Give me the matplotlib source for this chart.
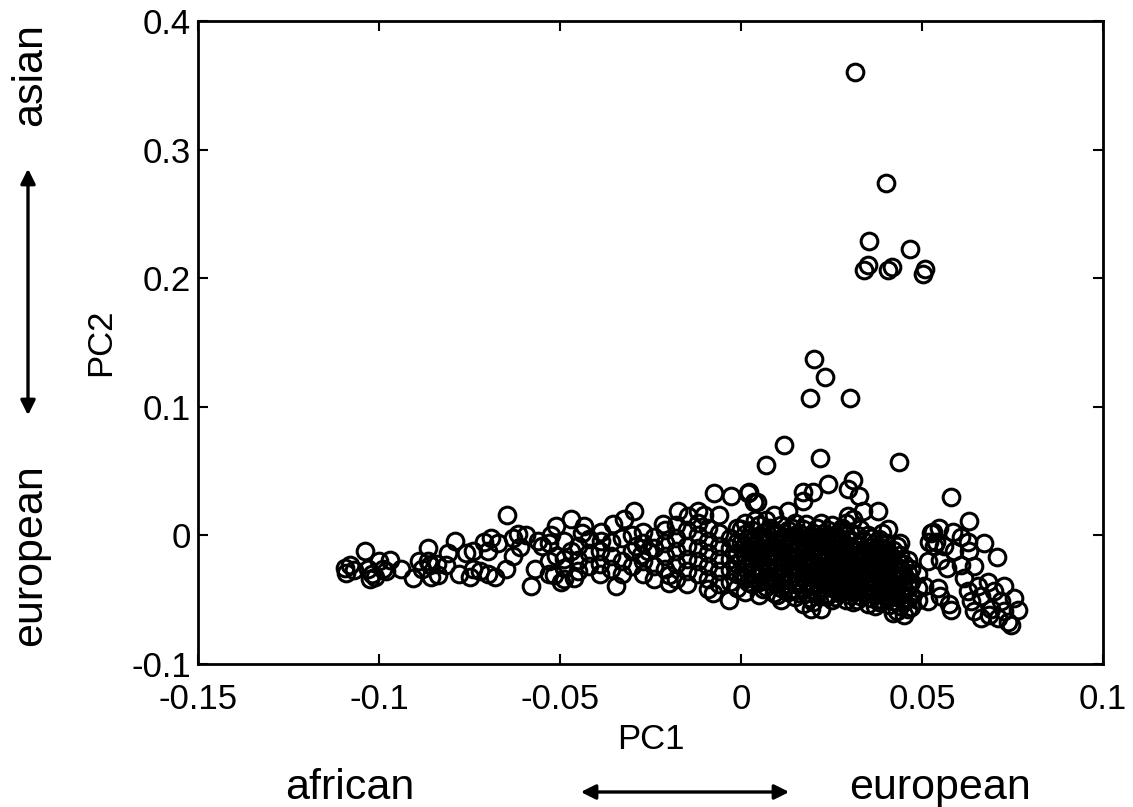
import matplotlib
matplotlib.use("Agg")
import matplotlib.pyplot as plt
from matplotlib.patches import FancyArrowPatch

plt.rcParams['font.family'] = ['Liberation Sans', 'DejaVu Sans']

# ---- data (PC1, PC2) ----
outliers = [(0.0315, 0.360), (0.040, 0.274), (0.0353, 0.229), (0.0466, 0.223),
            (0.034, 0.206), (0.035, 0.210), (0.0406, 0.2065), (0.0417, 0.209),
            (0.0502, 0.203), (0.0508, 0.207), (0.0201, 0.137), (0.0232, 0.123),
            (0.019, 0.107), (0.030, 0.107), (0.012, 0.070), (0.0218, 0.060),
            (0.0436, 0.057), (0.0069, 0.055)]

upper_core = [(0.0022, 0.034), (0.0044, 0.026), (0.017, 0.034), (0.017, 0.027),
              (0.020, 0.034), (0.024, 0.040), (0.031, 0.043), (0.0295, 0.036),
              (0.0326, 0.031), (0.0337, 0.019), (0.0378, 0.019), (0.0295, 0.015),
              (0.031, 0.013), (0.009, 0.0155), (0.013, 0.019), (0.0406, 0.005),
              (0.044, -0.006), (0.053, 0.003), (0.052, -0.005), (0.054, -0.005),
              (0.0193, -0.057), (0.022, -0.057), (0.043, -0.059), (0.046, -0.057)]

left_tail = [(-0.1095, -0.025), (-0.108, -0.023), (-0.107, -0.027), (-0.109, -0.029),
             (-0.104, -0.012), (-0.103, -0.026), (-0.102, -0.030), (-0.1025, -0.034),
             (-0.101, -0.032), (-0.100, -0.020), (-0.097, -0.019), (-0.099, -0.026),
             (-0.098, -0.028), (-0.094, -0.026), (-0.0905, -0.033), (-0.0864, -0.010),
             (-0.089, -0.020), (-0.0865, -0.020), (-0.088, -0.026), (-0.086, -0.023),
             (-0.084, -0.022), (-0.0855, -0.032), (-0.0836, -0.031), (-0.081, -0.014),
             (-0.0815, -0.023), (-0.079, -0.004), (-0.078, -0.030), (-0.075, -0.032),
             (-0.076, -0.014), (-0.074, -0.012), (-0.074, -0.026), (-0.072, -0.028),
             (-0.071, -0.005), (-0.069, -0.002), (-0.067, -0.006), (-0.070, -0.012),
             (-0.070, -0.030), (-0.068, -0.032), (-0.065, -0.026), (-0.0646, 0.0155),
             (-0.063, -0.002), (-0.0615, 0.001), (-0.0595, 0.000), (-0.061, -0.009),
             (-0.063, -0.016), (-0.058, -0.039), (-0.057, -0.026), (-0.056, -0.004),
             (-0.055, -0.008)]

middle = [(-0.0516, -0.031), (-0.0497, -0.036), (-0.046, -0.033), (-0.0524, 0.000),
          (-0.051, -0.016), (-0.0488, -0.018), (-0.047, -0.012), (-0.047, 0.013),
          (-0.051, 0.007), (-0.0433, 0.007), (-0.044, 0.0015), (-0.0353, 0.009),
          (-0.0323, 0.013), (-0.0295, 0.019), (-0.0386, 0.003), (-0.0386, -0.004),
          (-0.0345, -0.039), (-0.030, 0.000), (-0.029, -0.008), (-0.0276, -0.0155),
          (-0.0257, -0.012), (-0.0215, 0.009), (-0.0174, 0.019), (-0.0146, 0.015),
          (-0.0119, 0.019), (-0.0102, 0.0155), (-0.0075, 0.0326), (-0.0028, 0.031),
          (0.0019, 0.0326), (0.0036, 0.026), (-0.020, -0.037), (-0.0199, -0.031),
          (-0.0077, -0.045), (-0.0033, -0.050),
          (-0.053, -0.006), (-0.053, -0.020), (-0.053, -0.030),
          (-0.049, -0.004), (-0.049, -0.025), (-0.049, -0.034),
          (-0.045, -0.008), (-0.045, -0.019), (-0.045, -0.028),
          (-0.042, -0.003), (-0.042, -0.014), (-0.042, -0.024),
          (-0.039, -0.012), (-0.039, -0.022), (-0.039, -0.030),
          (-0.036, -0.005), (-0.036, -0.016), (-0.036, -0.026),
          (-0.033, -0.002), (-0.033, -0.020), (-0.033, -0.030),
          (-0.030, -0.012), (-0.030, -0.024),
          (-0.027, 0.003), (-0.027, -0.006), (-0.027, -0.020), (-0.027, -0.030),
          (-0.024, -0.001), (-0.024, -0.010), (-0.024, -0.024), (-0.024, -0.034),
          (-0.021, 0.004), (-0.021, -0.006), (-0.021, -0.016), (-0.021, -0.026),
          (-0.018, 0.008), (-0.018, -0.002), (-0.018, -0.012), (-0.018, -0.022), (-0.018, -0.034),
          (-0.015, 0.004), (-0.015, -0.008), (-0.015, -0.018), (-0.015, -0.028), (-0.015, -0.038),
          (-0.012, 0.010), (-0.012, 0.000), (-0.012, -0.010), (-0.012, -0.020), (-0.012, -0.030),
          (-0.009, 0.006), (-0.009, -0.004), (-0.009, -0.014), (-0.009, -0.024), (-0.009, -0.034), (-0.009, -0.042),
          (-0.006, 0.016), (-0.006, 0.002), (-0.006, -0.008), (-0.006, -0.018), (-0.006, -0.028), (-0.006, -0.038)]

core = [(-0.003, -0.002), (-0.003, -0.010), (-0.003, -0.018), (-0.003, -0.027), (-0.003, -0.036),
        (-0.001, 0.006), (-0.001, -0.005), (-0.001, -0.014), (-0.001, -0.022), (-0.001, -0.030), (-0.001, -0.041),
        (0.001, 0.010), (0.001, 0.001), (0.001, -0.008), (0.001, -0.016), (0.001, -0.025), (0.001, -0.034), (0.001, -0.044),
        (0.003, 0.004), (0.003, -0.004), (0.003, -0.013), (0.003, -0.021), (0.003, -0.030), (0.003, -0.038),
        (0.005, 0.008), (0.005, -0.001), (0.005, -0.010), (0.005, -0.018), (0.005, -0.027), (0.005, -0.036), (0.005, -0.046),
        (0.007, 0.012), (0.007, 0.003), (0.007, -0.006), (0.007, -0.015), (0.007, -0.023), (0.007, -0.032), (0.007, -0.040),
        (0.009, 0.000), (0.009, -0.009), (0.009, -0.019), (0.009, -0.028), (0.009, -0.037), (0.009, -0.045),
        (0.011, 0.008), (0.011, -0.003), (0.011, -0.012), (0.011, -0.021), (0.011, -0.031), (0.011, -0.041), (0.011, -0.050),
        (0.013, 0.004), (0.013, -0.006), (0.013, -0.016), (0.013, -0.025), (0.013, -0.035), (0.013, -0.044),
        (0.015, 0.010), (0.015, 0.000), (0.015, -0.010), (0.015, -0.019), (0.015, -0.029), (0.015, -0.038), (0.015, -0.048),
        (0.017, 0.005), (0.017, -0.005), (0.017, -0.014), (0.017, -0.024), (0.017, -0.033), (0.017, -0.042), (0.017, -0.053),
        (0.019, -0.001), (0.019, -0.011), (0.019, -0.020), (0.019, -0.030), (0.019, -0.039), (0.019, -0.049),
        (0.021, 0.006), (0.021, -0.004), (0.021, -0.015), (0.021, -0.025), (0.021, -0.034), (0.021, -0.044),
        (0.023, 0.002), (0.023, -0.008), (0.023, -0.018), (0.023, -0.028), (0.023, -0.038), (0.023, -0.047),
        (0.025, 0.008), (0.025, -0.002), (0.025, -0.012), (0.025, -0.022), (0.025, -0.031), (0.025, -0.041), (0.025, -0.050),
        (0.027, 0.003), (0.027, -0.007), (0.027, -0.017), (0.027, -0.026), (0.027, -0.036), (0.027, -0.045),
        (0.029, 0.010), (0.029, 0.000), (0.029, -0.011), (0.029, -0.021), (0.029, -0.030), (0.029, -0.040), (0.029, -0.050),
        (0.031, -0.004), (0.031, -0.015), (0.031, -0.025), (0.031, -0.034), (0.031, -0.044), (0.031, -0.052),
        (0.033, 0.005), (0.033, -0.008), (0.033, -0.019), (0.033, -0.029), (0.033, -0.038), (0.033, -0.047),
        (0.035, 0.000), (0.035, -0.012), (0.035, -0.022), (0.035, -0.032), (0.035, -0.042), (0.035, -0.053),
        (0.037, -0.006), (0.037, -0.016), (0.037, -0.026), (0.037, -0.036), (0.037, -0.046), (0.037, -0.055),
        (0.039, 0.002), (0.039, -0.010), (0.039, -0.020), (0.039, -0.030), (0.039, -0.040), (0.039, -0.050),
        (0.041, -0.014), (0.041, -0.024), (0.041, -0.034), (0.041, -0.044), (0.041, -0.054),
        (0.043, -0.008), (0.043, -0.019), (0.043, -0.028), (0.043, -0.038), (0.043, -0.048),
        (0.045, -0.022), (0.045, -0.031), (0.045, -0.042), (0.045, -0.052), (0.045, -0.062),
        (0.047, -0.026), (0.047, -0.036), (0.047, -0.046), (0.047, -0.056),
        (0.049, -0.030), (0.049, -0.041), (0.049, -0.050)]

core_fill = [(0.000, 0.005), (0.000, -0.006), (0.000, -0.019), (0.000, -0.031),
             (0.002, -0.002), (0.002, -0.011), (0.002, -0.023), (0.002, -0.036),
             (0.004, 0.012), (0.004, -0.007), (0.004, -0.016), (0.004, -0.032),
             (0.006, 0.002), (0.006, -0.012), (0.006, -0.021), (0.006, -0.029), (0.006, -0.042),
             (0.008, 0.006), (0.008, -0.004), (0.008, -0.014), (0.008, -0.025), (0.008, -0.034),
             (0.010, 0.002), (0.010, -0.007), (0.010, -0.017), (0.010, -0.026), (0.010, -0.036), (0.010, -0.046),
             (0.012, -0.001), (0.012, -0.010), (0.012, -0.019), (0.012, -0.029), (0.012, -0.038),
             (0.014, 0.006), (0.014, -0.004), (0.014, -0.013), (0.014, -0.023), (0.014, -0.032), (0.014, -0.042),
             (0.016, 0.002), (0.016, -0.008), (0.016, -0.017), (0.016, -0.027), (0.016, -0.036), (0.016, -0.045),
             (0.018, 0.009), (0.018, -0.002), (0.018, -0.012), (0.018, -0.022), (0.018, -0.031), (0.018, -0.045),
             (0.020, 0.002), (0.020, -0.008), (0.020, -0.017), (0.020, -0.028), (0.020, -0.037), (0.020, -0.052),
             (0.022, 0.010), (0.022, -0.001), (0.022, -0.011), (0.022, -0.021), (0.022, -0.030), (0.022, -0.040),
             (0.024, 0.004), (0.024, -0.006), (0.024, -0.016), (0.024, -0.026), (0.024, -0.036), (0.024, -0.046),
             (0.026, 0.000), (0.026, -0.010), (0.026, -0.020), (0.026, -0.029), (0.026, -0.039), (0.026, -0.048),
             (0.028, 0.006), (0.028, -0.004), (0.028, -0.014), (0.028, -0.024), (0.028, -0.034), (0.028, -0.044),
             (0.030, 0.003), (0.030, -0.008), (0.030, -0.018), (0.030, -0.027), (0.030, -0.036), (0.030, -0.046),
             (0.032, 0.000), (0.032, -0.011), (0.032, -0.021), (0.032, -0.031), (0.032, -0.041), (0.032, -0.050),
             (0.034, -0.004), (0.034, -0.015), (0.034, -0.025), (0.034, -0.035), (0.034, -0.045),
             (0.036, -0.002), (0.036, -0.009), (0.036, -0.019), (0.036, -0.029), (0.036, -0.039), (0.036, -0.049),
             (0.038, -0.003), (0.038, -0.013), (0.038, -0.023), (0.038, -0.033), (0.038, -0.043), (0.038, -0.052),
             (0.040, -0.006), (0.040, -0.017), (0.040, -0.027), (0.040, -0.037), (0.040, -0.047),
             (0.042, -0.011), (0.042, -0.021), (0.042, -0.031), (0.042, -0.041), (0.042, -0.051), (0.042, -0.060),
             (0.044, -0.015), (0.044, -0.025), (0.044, -0.035), (0.044, -0.045), (0.044, -0.055),
             (0.046, -0.019), (0.046, -0.029), (0.046, -0.039), (0.046, -0.049)]

right_cluster = [(0.058, 0.030), (0.063, 0.011), (0.067, -0.006), (0.0706, -0.017),
                 (0.0524, 0.0015), (0.0546, 0.0055), (0.0585, 0.003), (0.0607, -0.001),
                 (0.0626, -0.005), (0.0533, -0.008), (0.056, -0.008), (0.0588, -0.012),
                 (0.063, -0.0125), (0.0516, -0.020), (0.055, -0.019), (0.057, -0.0255),
                 (0.0607, -0.023), (0.0643, -0.024), (0.0505, -0.039), (0.0516, -0.051),
                 (0.0544, -0.041), (0.055, -0.047), (0.0574, -0.053), (0.058, -0.058),
                 (0.0615, -0.033), (0.0626, -0.043), (0.0635, -0.051), (0.0654, -0.039),
                 (0.0662, -0.047), (0.0682, -0.036), (0.069, -0.057), (0.0698, -0.043),
                 (0.0717, -0.051), (0.0726, -0.059), (0.0737, -0.067), (0.0745, -0.070),
                 (0.0753, -0.049), (0.0764, -0.058), (0.0709, -0.064), (0.0684, -0.062),
                 (0.0726, -0.039), (0.0662, -0.064), (0.0643, -0.059)]

groups = [outliers, upper_core, left_tail, middle, core, core_fill, right_cluster]
pc1 = [p[0] for g in groups for p in g]
pc2 = [p[1] for g in groups for p in g]

x_ticks = [-0.15, -0.1, -0.05, 0, 0.05, 0.1]
x_tick_labels = ['-0.15', '-0.1', '-0.05', '0', '0.05', '0.1']
y_ticks = [-0.1, 0, 0.1, 0.2, 0.3, 0.4]
y_tick_labels = ['-0.1', '0', '0.1', '0.2', '0.3', '0.4']

# ---- figure ----
W, H = 1133, 807
fig = plt.figure(figsize=(W / 100, H / 100), dpi=100)
ax = fig.add_axes([198 / W, 1 - 664 / H, (1103 - 198) / W, (664 - 21) / H])

ax.plot(pc1, pc2, linestyle='none', marker='o', markersize=12,
        markerfacecolor='none', markeredgecolor='black', markeredgewidth=2.2)

ax.set_xlim(-0.15, 0.1)
ax.set_ylim(-0.1, 0.4)
ax.set_xticks(x_ticks)
ax.set_xticklabels(x_tick_labels)
ax.set_yticks(y_ticks)
ax.set_yticklabels(y_tick_labels)
ax.tick_params(direction='in', length=7, width=1.5, top=True, right=True,
               labelsize=25)
ax.tick_params(axis='x', pad=14)
ax.tick_params(axis='y', pad=5)
for s in ax.spines.values():
    s.set_linewidth(2)

ax.set_xlabel('PC1', fontsize=25, labelpad=5)
ax.set_ylabel('PC2', fontsize=25, labelpad=10)

# annotation texts and arrows
fig.text(350 / W, 1 - 788 / H, 'african', fontsize=31, ha='center', va='center')
fig.text(940 / W, 1 - 788 / H, 'european', fontsize=31, ha='center', va='center')
fig.text(30 / W, 1 - 75 / H, 'asian', fontsize=31, ha='center', va='center', rotation=90)
fig.text(30 / W, 1 - 555 / H, 'european', fontsize=31, ha='center', va='center', rotation=90)

arr_h = FancyArrowPatch((578 / W, 1 - 792 / H), (792 / W, 1 - 792 / H),
                        transform=fig.transFigure, arrowstyle='<|-|>',
                        mutation_scale=22, linewidth=2.4, color='black')
arr_v = FancyArrowPatch((28 / W, 1 - 418 / H), (28 / W, 1 - 166 / H),
                        transform=fig.transFigure, arrowstyle='<|-|>',
                        mutation_scale=22, linewidth=2.4, color='black')
fig.patches.extend([arr_h, arr_v])

fig.savefig('out.png', dpi=100)
